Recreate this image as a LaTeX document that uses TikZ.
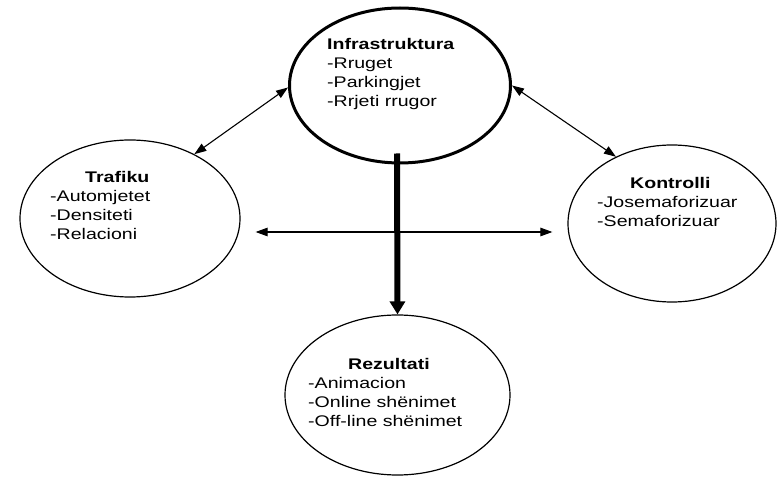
\documentclass[tikz,border=0pt]{standalone}
\usepackage{fontspec}
\setmainfont{Liberation Sans}[FakeStretch=1.27]
\usetikzlibrary{shapes.geometric,arrows.meta,calc}
\begin{document}
\begin{tikzpicture}[x=1pt,y=-1pt,
  bubble/.style={ellipse,draw,line width=1.2pt,inner sep=0pt},
  blocktext/.style={anchor=north west,align=left,inner sep=0pt,
    font=\fontsize{15.4}{19}\selectfont},
  link/.style={{Triangle[length=12pt,width=8.5pt]}-{Triangle[length=12pt,width=8.5pt]},
    line width=1.1pt},
  flow/.style={-{Triangle[length=13pt,width=15pt]},line width=6pt}]
\useasboundingbox (0,0) rectangle (777,478);

% the four subsystems
\node[bubble,line width=3pt,minimum width=221pt,minimum height=155pt] (infra) at (400,85.5) {};
\node[bubble,minimum width=220pt,minimum height=157pt] (traf) at (130,218.5) {};
\node[bubble,minimum width=208pt,minimum height=157pt] (kont) at (672,223.5) {};
\node[bubble,minimum width=225pt,minimum height=160pt] (rez) at (397.5,395) {};

% their contents
\node[blocktext] (infratext) at (327,37.7)
  {\textbf{Infrastruktura}\\-Rruget\\-Parkingjet\\-Rrjeti rrugor};
\node[blocktext] (traftext) at (50,170.7)
  {\hspace*{35pt}\textbf{Trafiku}\\-Automjetet\\-Densiteti\\-Relacioni};
\node[blocktext] (konttext) at (597,176.7)
  {\hspace*{33pt}\textbf{Kontrolli}\\-Josemaforizuar\\-Semaforizuar};
\node[blocktext] (reztext) at (308,357.7)
  {\hspace*{40pt}\textbf{Rezultati}\\-Animacion\\-Online shënimet\\-Off-line shënimet};

% interactions
\draw[link] (infra.181) -- (traf.45);
\draw[link] (infra.0) -- (kont.130);
\draw[link,shorten <=15pt,shorten >=15pt]
  ([yshift=-13.5pt]traf.east) -- ([yshift=-8.5pt]kont.west);
\draw[flow] ($(infra.south)+(-3,-11)$) -- (rez.north);
\end{tikzpicture}
\end{document}
